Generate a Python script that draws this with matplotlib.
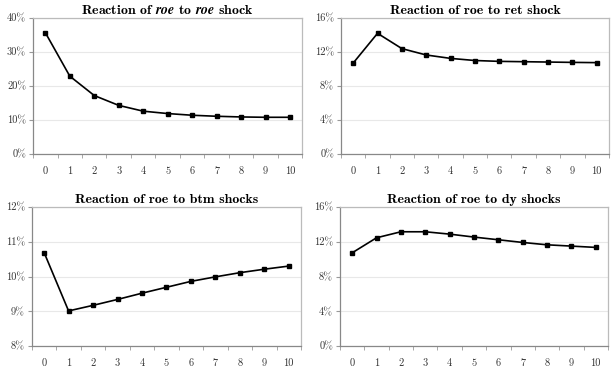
import numpy as np
import matplotlib.pyplot as plt
from matplotlib.ticker import FuncFormatter, MultipleLocator

plt.rcParams['font.family'] = 'serif'
plt.rcParams['font.serif'] = ['cmr10', 'DejaVu Serif']
plt.rcParams['mathtext.fontset'] = 'cm'
plt.rcParams['axes.unicode_minus'] = False

periods = list(range(11))

# impulse responses (percent)
roe_roe = [35.7, 22.9, 17.2, 14.3, 12.6, 11.9, 11.4, 11.1, 10.9, 10.8, 10.8]
roe_ret = [10.7, 14.2, 12.4, 11.65, 11.25, 11.0, 10.9, 10.86, 10.82, 10.78, 10.75]
roe_btm = [10.69, 9.01, 9.17, 9.34, 9.52, 9.69, 9.86, 9.99, 10.11, 10.21, 10.30]
roe_dy = [10.73, 12.46, 13.15, 13.15, 12.88, 12.54, 12.23, 11.92, 11.65, 11.5, 11.35]

titles = [r'Reaction of $\mathbfit{roe}$ to $\mathbfit{roe}$ shock',
          'Reaction of roe to ret shock',
          'Reaction of roe to btm shocks',
          'Reaction of roe to dy shocks']
series = [roe_roe, roe_ret, roe_btm, roe_dy]
ylims = [(0, 40), (0, 16), (8, 12), (0, 16)]
ysteps = [10, 4, 1, 4]

# axes rectangles [left, bottom, width, height]
rects = [[0.054, 0.5915, 0.439, 0.3607],
         [0.5563, 0.5915, 0.437, 0.3607],
         [0.052, 0.0822, 0.439, 0.3687],
         [0.5547, 0.0822, 0.437, 0.3687]]

fig = plt.figure(figsize=(6.13, 3.77), dpi=100)

for rect, y, title, ylim, step in zip(rects, series, titles, ylims, ysteps):
    ax = fig.add_axes(rect)
    ax.plot(periods, y, color='black', lw=1.2, marker='s', ms=3.5, zorder=3)
    ax.set_xlim(-0.5, 10.5)
    ax.set_ylim(*ylim)
    ax.yaxis.set_major_locator(MultipleLocator(step))
    ax.yaxis.set_major_formatter(FuncFormatter(lambda v, p: '%d%%' % round(v)))
    ax.set_xticks(periods)
    ax.set_xticks(np.arange(-0.5, 11, 1), minor=True)
    ax.tick_params(axis='x', which='major', length=0, pad=9, labelsize=7.5, colors='#333333')
    ax.tick_params(axis='x', which='minor', length=3, color='#999999')
    ax.tick_params(axis='y', length=3, color='#999999', labelsize=7.5, labelcolor='#333333', pad=2)
    ax.grid(axis='y', color='#e8e8e8', lw=0.8)
    ax.set_axisbelow(True)
    ax.spines['left'].set_color('#888888')
    ax.spines['bottom'].set_color('#888888')
    ax.spines['top'].set_color('#bbbbbb')
    ax.spines['right'].set_color('#bbbbbb')
    for s in ax.spines.values():
        s.set_linewidth(0.9)
    ax.set_title(title, fontsize=10, fontfamily='cmb10', pad=3)

fig.savefig('out.png', dpi=100)
